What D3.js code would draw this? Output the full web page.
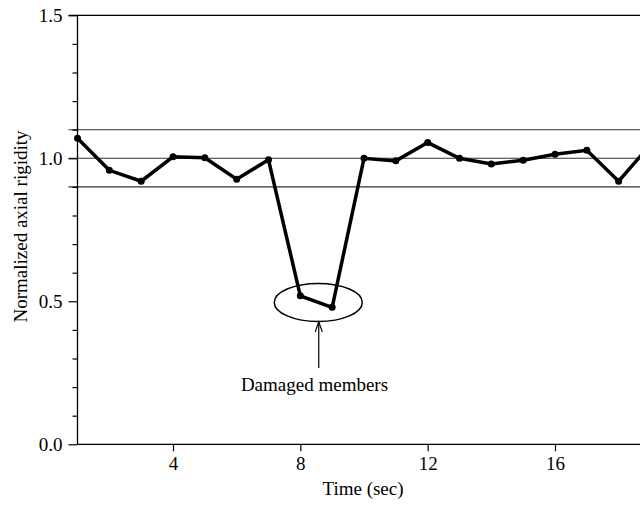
<!DOCTYPE html>
<html>
<head>
<meta charset="utf-8">
<script src="https://cdn.jsdelivr.net/npm/d3@7"></script>
<style>
  html, body { margin: 0; padding: 0; background: #fff; }
  svg { display: block; }
  text { font-family: "Liberation Serif", "Times New Roman", serif; fill: #000; }
</style>
</head>
<body>
<svg id="chart" width="640" height="507"></svg>
<script>
const times = [1, 2, 3, 4, 5, 6, 7, 8, 9, 10, 11, 12, 13, 14, 15, 16, 17, 18, 19];
const rigidity = [1.07, 0.958, 0.92, 1.005, 1.002, 0.927, 0.995, 0.519, 0.479, 1.0, 0.991, 1.055, 1.0, 0.98, 0.993, 1.014, 1.028, 0.92, 1.048];
const xTicks = [4, 8, 12, 16];
const yTicks = [0.0, 0.5, 1.0, 1.5];
const yMinorTicks = [0.1, 0.2, 0.3, 0.4, 0.6, 0.7, 0.8, 0.9, 1.1, 1.2, 1.3, 1.4];
const refLevels = [0.9, 1.0, 1.1];
const damagedTimes = [8, 9];
const xLabel = "Time (sec)";
const yLabel = "Normalized axial rigidity";
const annotation = "Damaged members";

const svg = d3.select("#chart");
const FS = 19;

const x = d3.scaleLinear().domain([1, 19]).range([77.5, 650.5]);
const y = d3.scaleLinear().domain([0, 1.5]).range([444.3, 15.3]);
const x0 = x.range()[0];

// clip for plot
svg.append("defs").append("clipPath").attr("id", "clip")
  .append("rect").attr("x", 0).attr("y", 0).attr("width", 640).attr("height", 507);

// reference lines
svg.append("g").selectAll("line").data(refLevels).join("line")
  .attr("x1", x0 - 9).attr("x2", 640)
  .attr("y1", d => y(d)).attr("y2", d => y(d))
  .attr("stroke", "#333").attr("stroke-width", 1.1);

// top frame line at 1.5
svg.append("line")
  .attr("x1", x0 - 9).attr("x2", 640)
  .attr("y1", y(1.5)).attr("y2", y(1.5))
  .attr("stroke", "#000").attr("stroke-width", 1.3);

// y axis major
const yAxis = svg.append("g").attr("transform", `translate(${x0},0)`)
  .call(d3.axisLeft(y).tickValues(yTicks).tickSize(9).tickPadding(6).tickFormat(d3.format(".1f")));
yAxis.select(".domain").attr("stroke", "#000").attr("stroke-width", 1.3).attr("d", `M0,${y(1.5)}V${y(0)}`);
yAxis.selectAll(".tick line").attr("stroke", "#000").attr("stroke-width", 1.2);
yAxis.selectAll("text").attr("font-size", FS).attr("font-family", "Liberation Serif, Times New Roman, serif");

// y axis minor
const yMinor = svg.append("g").attr("transform", `translate(${x0},0)`)
  .call(d3.axisLeft(y).tickValues(yMinorTicks).tickSize(5).tickFormat(""));
yMinor.select(".domain").remove();
yMinor.selectAll(".tick line").attr("stroke", "#000").attr("stroke-width", 1.2);

// x axis
const xAxis = svg.append("g").attr("transform", `translate(0,${y(0)})`)
  .call(d3.axisBottom(x).tickValues(xTicks).tickSize(7).tickPadding(5.5).tickFormat(d3.format("d")));
xAxis.select(".domain").attr("stroke", "#000").attr("stroke-width", 1.3).attr("d", `M${x0},0H640`);
xAxis.selectAll(".tick line").attr("stroke", "#000").attr("stroke-width", 1.2);
xAxis.selectAll("text").attr("font-size", FS).attr("font-family", "Liberation Serif, Times New Roman, serif");

// data line
const pts = times.map((t, i) => [t, rigidity[i]]);
const plot = svg.append("g").attr("clip-path", "url(#clip)");
plot.append("path")
  .datum(pts)
  .attr("fill", "none").attr("stroke", "#000").attr("stroke-width", 3.5)
  .attr("stroke-linejoin", "miter")
  .attr("d", d3.line().x(d => x(d[0])).y(d => y(d[1])));
plot.selectAll("circle").data(pts).join("circle")
  .attr("cx", d => x(d[0])).attr("cy", d => y(d[1])).attr("r", 3.5).attr("fill", "#000");

// annotation ellipse around damaged members
const dVals = damagedTimes.map(t => rigidity[times.indexOf(t)]);
const ecx = (x(damagedTimes[0]) + x(damagedTimes[1])) / 2 + 2;
const ecy = (y(dVals[0]) + y(dVals[1])) / 2 + 0.8;
svg.append("ellipse")
  .attr("cx", ecx).attr("cy", ecy).attr("rx", 44).attr("ry", 19)
  .attr("fill", "none").attr("stroke", "#000").attr("stroke-width", 1.5);

// arrow
const ax = ecx + 0.5, aTop = ecy + 19.5, aBot = 368;
svg.append("line").attr("x1", ax).attr("x2", ax).attr("y1", aTop).attr("y2", aBot)
  .attr("stroke", "#000").attr("stroke-width", 1.2);
svg.append("path")
  .attr("d", `M${ax - 3.5},${aTop + 10}L${ax},${aTop}L${ax + 3.5},${aTop + 10}`)
  .attr("fill", "none").attr("stroke", "#000").attr("stroke-width", 1.2);

svg.append("text")
  .attr("x", 314.5).attr("y", 391)
  .attr("text-anchor", "middle").attr("font-size", FS)
  .text(annotation);

// axis titles
svg.append("text")
  .attr("x", 363).attr("y", 495)
  .attr("text-anchor", "middle").attr("font-size", FS)
  .text(xLabel);

svg.append("text")
  .attr("transform", `translate(26.5,${226.5}) rotate(-90)`)
  .attr("text-anchor", "middle").attr("font-size", FS)
  .text(yLabel);
</script>
</body>
</html>
